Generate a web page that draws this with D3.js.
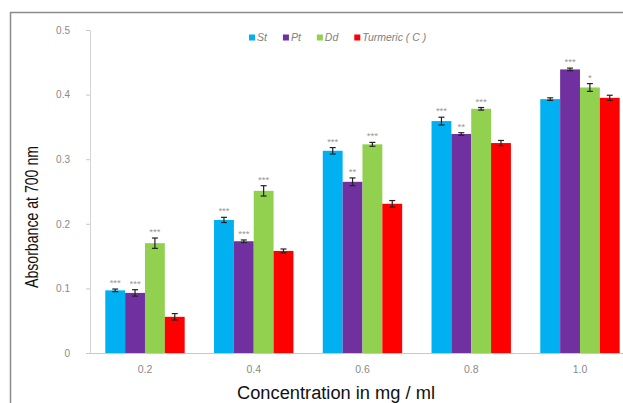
<!DOCTYPE html>
<html>
<head>
<meta charset="utf-8">
<script src="https://cdn.jsdelivr.net/npm/d3@7"></script>
<style>
  html, body { margin: 0; padding: 0; background: #fff; overflow: hidden; }
  svg { display: block; }
</style>
</head>
<body>
<svg id="chart" width="623" height="403"></svg>
<script>
// Reducing power: absorbance at 700 nm by extract concentration
const concentrations = ["0.2", "0.4", "0.6", "0.8", "1.0"];
const seriesNames = ["St", "Pt", "Dd", "Turmeric ( C )"];
const seriesColors = ["#00b0f0", "#7030a0", "#92d050", "#ff0000"];

const stValues       = [0.097, 0.206, 0.313, 0.359, 0.393];
const ptValues       = [0.093, 0.173, 0.265, 0.339, 0.439];
const ddValues       = [0.170, 0.251, 0.323, 0.378, 0.411];
const turmericValues = [0.056, 0.158, 0.231, 0.325, 0.395];

const stErrors       = [0.002, 0.004, 0.005, 0.006, 0.002];
const ptErrors       = [0.005, 0.002, 0.006, 0.002, 0.002];
const ddErrors       = [0.008, 0.008, 0.003, 0.002, 0.006];
const turmericErrors = [0.005, 0.003, 0.005, 0.004, 0.004];

const stMarks       = ["***", "***", "***", "***", ""];
const ptMarks       = ["***", "***", "**", "**", "***"];
const ddMarks       = ["***", "***", "***", "***", "*"];
const turmericMarks = ["", "", "", "", ""];

const yTicks = [0, 0.1, 0.2, 0.3, 0.4, 0.5];

const seriesValues = [stValues, ptValues, ddValues, turmericValues];
const seriesErrors = [stErrors, ptErrors, ddErrors, turmericErrors];
const seriesMarks  = [stMarks, ptMarks, ddMarks, turmericMarks];

const svg = d3.select("#chart");

// outer frame (runs past the right and bottom edges)
svg.append("rect")
  .attr("x", 10.5).attr("y", 12.5)
  .attr("width", 700).attr("height", 500)
  .attr("fill", "none")
  .attr("stroke", "#8c8c8c")
  .attr("stroke-width", 1.5);

const x0 = d3.scaleBand()
  .domain(concentrations)
  .range([90.6, 634.35])
  .paddingInner(0.27)
  .paddingOuter(0.135);

const x1 = d3.scaleBand()
  .domain(d3.range(seriesNames.length))
  .range([0, x0.bandwidth()])
  .padding(0);

const y = d3.scaleLinear().domain([0, 0.5]).range([353, 30]);

// y axis
const yAxis = svg.append("g")
  .attr("transform", "translate(90,0)")
  .call(d3.axisLeft(y)
    .tickValues(yTicks)
    .tickSize(4)
    .tickSizeOuter(0)
    .tickPadding(16)
    .tickFormat(d => d === 0 ? "0" : d3.format(".1f")(d)));
yAxis.select(".domain").attr("stroke", "#d4d4d4");
yAxis.selectAll(".tick line").attr("stroke", "#c8c8c8");
yAxis.selectAll(".tick text")
  .attr("fill", "#8a8a8a")
  .style("font-family", "'Liberation Sans', Arial, sans-serif")
  .style("font-size", "10px");

// baseline
svg.append("line")
  .attr("x1", 86).attr("x2", 623)
  .attr("y1", y(0) + 0.5).attr("y2", y(0) + 0.5)
  .attr("stroke", "#c8c8c8");

// x axis labels
const xAxis = svg.append("g")
  .attr("transform", `translate(0,${y(0)})`)
  .call(d3.axisBottom(x0).tickSize(0).tickPadding(13));
xAxis.select(".domain").remove();
xAxis.selectAll(".tick text")
  .attr("fill", "#8a8a8a")
  .style("font-family", "'Liberation Sans', Arial, sans-serif")
  .style("font-size", "10.5px");

// bars, error bars and significance marks
const groups = svg.append("g").selectAll("g")
  .data(concentrations)
  .join("g")
  .attr("transform", d => `translate(${x0(d)},0)`);

groups.each(function (c, ci) {
  const g = d3.select(this);
  seriesNames.forEach((name, si) => {
    const v = seriesValues[si][ci];
    const e = seriesErrors[si][ci];
    const bx = x1(si);
    const bw = x1.bandwidth();
    const cx = bx + bw / 2;

    g.append("rect")
      .attr("x", bx).attr("y", y(v))
      .attr("width", bw).attr("height", y(0) - y(v))
      .attr("fill", seriesColors[si]);

    g.append("line")
      .attr("x1", cx).attr("x2", cx)
      .attr("y1", y(v - e)).attr("y2", y(v + e))
      .attr("stroke", "#222").attr("stroke-width", 1.2);
    [v - e, v + e].forEach(t => {
      g.append("line")
        .attr("x1", cx - 3).attr("x2", cx + 3)
        .attr("y1", y(t)).attr("y2", y(t))
        .attr("stroke", "#222").attr("stroke-width", 1.2);
    });

    const mark = seriesMarks[si][ci];
    if (mark) {
      g.append("text")
        .attr("x", cx)
        .attr("y", y(v + e) - 3)
        .attr("text-anchor", "middle")
        .attr("fill", "#999")
        .style("font-family", "'Liberation Sans', Arial, sans-serif")
        .style("font-size", "9.5px")
        .text(mark);
    }
  });
});

// legend
const legend = svg.append("g").attr("transform", "translate(249,0)");
let lx = 0;
seriesNames.forEach((name, i) => {
  legend.append("rect")
    .attr("x", lx).attr("y", 34.5)
    .attr("width", 6).attr("height", 6)
    .attr("fill", seriesColors[i]);
  const t = legend.append("text")
    .attr("x", lx + 8).attr("y", 41)
    .attr("fill", "#808080")
    .style("font-family", "'Liberation Sans', Arial, sans-serif")
    .style("font-size", "10.5px")
    .style("font-style", "italic")
    .text(name);
  lx += 8 + t.node().getComputedTextLength() + 16;
});

// axis titles
svg.append("text")
  .attr("transform", "translate(38,217) rotate(-90)")
  .attr("text-anchor", "middle")
  .attr("fill", "#111")
  .attr("textLength", 142)
  .attr("lengthAdjust", "spacingAndGlyphs")
  .style("font-family", "'Liberation Sans Narrow', 'Liberation Sans', Arial, sans-serif")
  .style("font-size", "17.5px")
  .text("Absorbance at 700 nm");

svg.append("text")
  .attr("x", 336).attr("y", 399)
  .attr("text-anchor", "middle")
  .attr("fill", "#111")
  .attr("textLength", 198)
  .attr("lengthAdjust", "spacingAndGlyphs")
  .style("font-family", "'Liberation Sans Narrow', 'Liberation Sans', Arial, sans-serif")
  .style("font-size", "18px")
  .text("Concentration in mg / ml");
</script>
</body>
</html>
